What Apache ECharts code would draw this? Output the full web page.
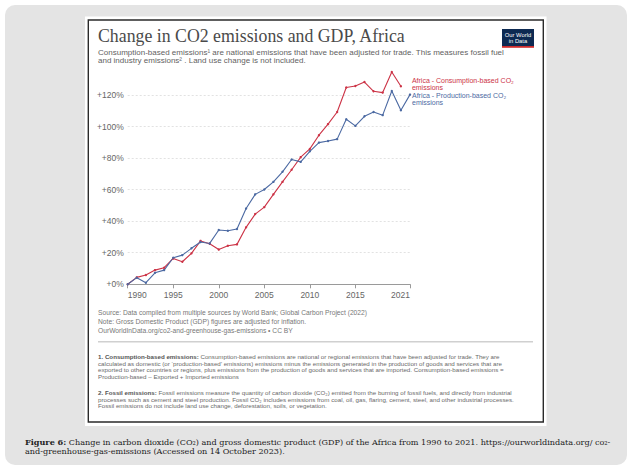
<!DOCTYPE html>
<html><head><meta charset="utf-8">
<script src="https://cdn.jsdelivr.net/npm/echarts@6/dist/echarts.min.js"></script>
<style>html,body{margin:0;padding:0;background:#fff;}#c{width:633px;height:473px;}</style>
</head><body><div id="c"></div>
<script>
const years = [1990,1991,1992,1993,1994,1995,1996,1997,1998,1999,2000,2001,2002,2003,2004,2005,2006,2007,2008,2009,2010,2011,2012,2013,2014,2015,2016,2017,2018,2019,2020,2021];
const consumption = [0,4.4,5.9,9.0,10.5,16.4,14.3,19.6,27.5,25.7,22.0,24.4,25.3,36.1,44.5,48.9,57.0,64.9,72.6,80.6,85.8,94.5,101.5,109.2,124.7,125.7,128.2,122.3,121.5,134.6,125.5,null];
const production = [0,4.2,1.0,7.3,9.0,16.8,18.5,22.8,26.8,25.9,34.4,33.9,35.0,48.0,57.0,60.1,64.9,71.3,79.1,77.6,84.3,89.8,90.8,92.0,104.6,100.4,106.5,109.2,107.2,122.5,110.3,120.2];
const xTickLabels = [1990,1995,2000,2005,2010,2015,2021];
const seriesNames = ['Africa - Consumption-based CO\u2082\nemissions','Africa - Production-based CO\u2082\nemissions'];

const SANS = '"Liberation Sans", Arial, sans-serif';
const SERIF = '"Liberation Serif", "Times New Roman", serif';
const CAPSERIF = '"DejaVu Serif", serif';
const RED = '#cc3346';
const BLUE = '#4b69a2';

function pairs(vals){ return years.map((y,i)=>[y, vals[i]]).filter(p=>p[1]!==null); }

function txt(x,y,text,size,color,opts){
  return {type:'text', x:x, y:y, z:10, silent:true,
    style:Object.assign({text:text, fill:color, font:size+'px '+SANS, verticalAlign:'middle', align:'left'}, (opts&&opts.style)||{})};
}

const NOTE = 6.2;
const graphics = [
  {type:'rect', shape:{x:5,y:5,width:622,height:460,r:10}, style:{fill:'#e4e4e4'}, z:-10, silent:true},
  {type:'rect', shape:{x:85,y:16.5,width:461.5,height:409.5}, style:{fill:'#fff'}, z:-9, silent:true},
  {type:'rect', shape:{x:88.3,y:20,width:455,height:402}, style:{fill:'#fff', stroke:'#2a2a2a', lineWidth:1.4}, z:-8, silent:true},
  txt(98,36,'Change in CO2 emissions and GDP, Africa',17.8,'#4a4a4a',{style:{font:'17.8px '+SERIF}}),
  txt(98,52.3,'Consumption-based emissions\u00b9 are national emissions that have been adjusted for trade. This measures fossil fuel',8,'#5f5f5f'),
  txt(98,60.2,'and industry emissions\u00b2 . Land use change is not included.',8,'#5f5f5f'),
  {type:'rect', shape:{x:502,y:29,width:32,height:17}, style:{fill:'#0d2a52'}, z:10, silent:true},
  {type:'rect', shape:{x:502,y:46,width:32,height:1.8}, style:{fill:'#ce2c2c'}, z:10, silent:true},
  txt(518,34.6,'Our World',5.8,'#fff',{style:{align:'center'}}),
  txt(518,40.8,'in Data',5.8,'#fff',{style:{align:'center'}}),
  txt(98,312.7,'Source: Data compiled from multiple sources by World Bank; Global Carbon Project (2022)',6.7,'#777'),
  txt(98,321.5,'Note: Gross Domestic Product (GDP) figures are adjusted for inflation.',6.7,'#777'),
  txt(98,330.2,'OurWorldInData.org/co2-and-greenhouse-gas-emissions \u2022 CC BY',6.7,'#777'),
  {type:'line', shape:{x1:98,y1:341.7,x2:533,y2:341.7}, style:{stroke:'#d0d0d0', lineWidth:1.5}, z:10, silent:true},
  {type:'text', x:98, y:356.5, z:10, silent:true, style:{text:'{b|1. Consumption-based emissions:} Consumption-based emissions are national or regional emissions that have been adjusted for trade. They are', fill:'#6a6a6a', font:NOTE+'px '+SANS, verticalAlign:'middle', rich:{b:{fontWeight:'bold', fill:'#555', fontSize:NOTE, fontFamily:SANS}}}},
  txt(98,363,'calculated as domestic (or \u2018production-based\u2019 emissions) emissions minus the emissions generated in the production of goods and services that are',NOTE,'#6a6a6a'),
  txt(98,369.5,'exported to other countries or regions, plus emissions from the production of goods and services that are imported. Consumption-based emissions =',NOTE,'#6a6a6a'),
  txt(98,376,'Production-based \u2013 Exported + Imported emissions',NOTE,'#6a6a6a'),
  {type:'text', x:98, y:392.5, z:10, silent:true, style:{text:'{b|2. Fossil emissions:} Fossil emissions measure the quantity of carbon dioxide (CO\u2082) emitted from the burning of fossil fuels, and directly from industrial', fill:'#6a6a6a', font:NOTE+'px '+SANS, verticalAlign:'middle', rich:{b:{fontWeight:'bold', fill:'#555', fontSize:NOTE, fontFamily:SANS}}}},
  txt(98,399,'processes such as cement and steel production. Fossil CO\u2082 includes emissions from coal, oil, gas, flaring, cement, steel, and other industrial processes.',NOTE,'#6a6a6a'),
  txt(98,405.5,'Fossil emissions do not include land use change, deforestation, soils, or vegetation.',NOTE,'#6a6a6a'),
  {type:'text', x:25, y:441.5, z:10, silent:true, style:{text:'{b|Figure 6:} Change in carbon dioxide (CO\u2082) and gross domestic product (GDP) of the Africa from 1990 to 2021. https://ourworldindata.org/ co\u2082-', fill:'#222', font:'8.1px '+CAPSERIF, verticalAlign:'middle', rich:{b:{fontWeight:'bold', fill:'#222', fontSize:8.1, fontFamily:CAPSERIF}}}},
  {type:'text', x:25, y:451, z:10, silent:true, style:{text:'and-greenhouse-gas-emissions (Accessed on 14 October 2023).', fill:'#222', font:'8.1px '+CAPSERIF, verticalAlign:'middle'}}
];

const chart = echarts.init(document.getElementById('c'), null, {renderer:'svg'});
chart.setOption({
  animation:false,
  backgroundColor:'transparent',
  grid:{left:127.7, right:223, top:63.4, bottom:188.7, containLabel:false},
  xAxis:{type:'value', min:1990, max:2021,
    axisLine:{show:true, lineStyle:{color:'#9a9a9a', width:1}},
    axisTick:{show:true, length:4, customValues:xTickLabels, lineStyle:{color:'#9a9a9a'}},
    axisLabel:{customValues:xTickLabels, color:'#666', fontSize:8.5, fontFamily:SANS, margin:6, alignMinLabel:'left', alignMaxLabel:'right', formatter:v=>String(v)},
    splitLine:{show:false}},
  yAxis:{type:'value', min:0, max:140, interval:20,
    axisLine:{show:false}, axisTick:{show:false},
    axisLabel:{color:'#666', fontSize:8.5, fontFamily:SANS, margin:4, showMaxLabel:false, formatter:v=>'+'+v+'%'},
    splitLine:{show:true, showMinLine:false, showMaxLine:false, lineStyle:{color:'#dadada', type:[2,2], width:0.8}}},
  series:[
    {name:seriesNames[0], type:'line', data:pairs(consumption), color:RED, symbol:'circle', symbolSize:2.4, showAllSymbol:true,
      lineStyle:{width:1.1, color:RED}, itemStyle:{color:RED},
      endLabel:{show:true, formatter:seriesNames[0], color:RED, fontSize:7, lineHeight:7.4, fontFamily:SANS, distance:0, offset:[11,-2.5]}},
    {name:seriesNames[1], type:'line', data:pairs(production), color:BLUE, symbol:'circle', symbolSize:2.4, showAllSymbol:true,
      lineStyle:{width:1.1, color:BLUE}, itemStyle:{color:BLUE},
      endLabel:{show:true, formatter:seriesNames[1], color:BLUE, fontSize:7, lineHeight:7.4, fontFamily:SANS, distance:0, offset:[2,4.5]}}
  ],
  graphic:graphics
});
</script></body></html>
